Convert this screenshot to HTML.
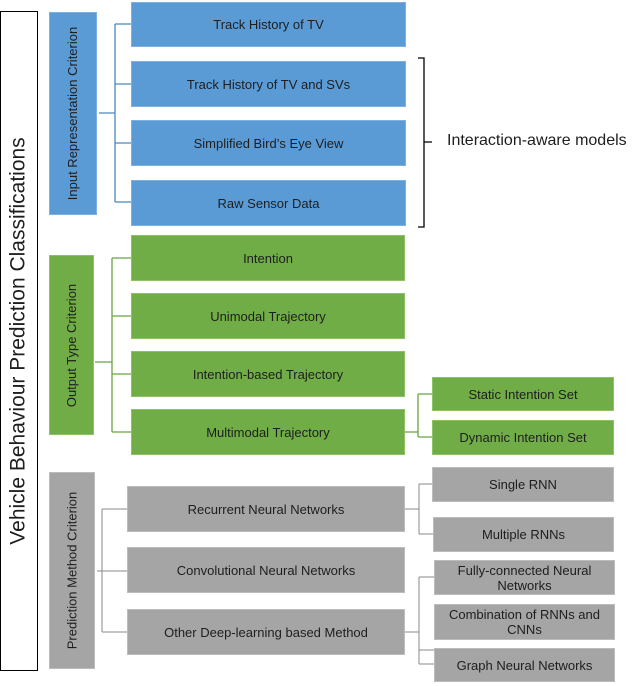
<!DOCTYPE html>
<html><head><meta charset="utf-8"><style>
body{margin:0;width:640px;height:686px;background:#fff;position:relative;overflow:hidden;font-family:"Liberation Sans",sans-serif;color:#1e1e1e}
.b{position:absolute;display:flex;align-items:center;justify-content:center;text-align:center;font-size:13px;line-height:15px}
.bl{background:#5b9bd5;border:1px solid #7eb1e0;box-sizing:border-box}
.gr{background:#70ad47;border:1px solid #8cc266;box-sizing:border-box}
.gy{background:#a5a5a5;border:1px solid #bcbcbc;box-sizing:border-box}
.v{position:absolute;display:flex;align-items:center;justify-content:center}
.v span{transform:rotate(-90deg);white-space:nowrap;font-size:13px}
.l{position:absolute}
</style></head><body>
<div style="position:absolute;left:0;top:11px;width:38px;height:660px;border:1px solid #000;box-sizing:border-box"></div>
<div class="v" style="left:0;top:11px;width:38px;height:660px"><span style="font-size:21px">Vehicle Behaviour Prediction Classifications</span></div>

<div class="v bl" style="left:49px;top:12px;width:48px;height:203px;position:absolute"><span>Input Representation Criterion</span></div>
<div class="b bl" style="left:131px;top:2px;width:275px;height:45px">Track History of TV</div>
<div class="b bl" style="left:131px;top:61px;width:275px;height:46px">Track History of TV and SVs</div>
<div class="b bl" style="left:131px;top:120px;width:275px;height:46px">Simplified Bird’s Eye View</div>
<div class="b bl" style="left:131px;top:180px;width:275px;height:46px">Raw Sensor Data</div>

<div class="v gr" style="left:49px;top:255px;width:45px;height:180px;position:absolute"><span>Output Type Criterion</span></div>
<div class="b gr" style="left:131px;top:235px;width:274px;height:46px">Intention</div>
<div class="b gr" style="left:131px;top:293px;width:274px;height:46px">Unimodal Trajectory</div>
<div class="b gr" style="left:131px;top:351px;width:274px;height:46px">Intention-based Trajectory</div>
<div class="b gr" style="left:131px;top:409px;width:274px;height:46px">Multimodal Trajectory</div>
<div class="b gr" style="left:432px;top:377px;width:182px;height:34px">Static Intention Set</div>
<div class="b gr" style="left:432px;top:420px;width:182px;height:35px">Dynamic Intention Set</div>

<div class="v gy" style="left:49px;top:472px;width:46px;height:197px;position:absolute"><span>Prediction Method Criterion</span></div>
<div class="b gy" style="left:127px;top:486px;width:278px;height:46px">Recurrent Neural Networks</div>
<div class="b gy" style="left:127px;top:547px;width:278px;height:46px">Convolutional Neural Networks</div>
<div class="b gy" style="left:127px;top:609px;width:278px;height:46px">Other Deep-learning based Method</div>
<div class="b gy" style="left:432px;top:467px;width:182px;height:35px">Single RNN</div>
<div class="b gy" style="left:433px;top:517px;width:181px;height:35px">Multiple RNNs</div>
<div class="b gy" style="left:434px;top:560px;width:181px;height:35px">Fully-connected Neural<br>Networks</div>
<div class="b gy" style="left:434px;top:604px;width:181px;height:36px">Combination of RNNs and<br>CNNs</div>
<div class="b gy" style="left:434px;top:648px;width:181px;height:34px">Graph Neural Networks</div>

<svg width="640" height="686" style="position:absolute;left:0;top:0" fill="none">
<g stroke="#4a86c0" stroke-width="1.3">
<path d="M99 113H115M115 24V202M115 24H131M115 84H131M115 143H131M115 202H131"/></g>
<g stroke="#6aa442" stroke-width="1.3">
<path d="M95 362H112M112 258V432M112 258H131M112 316H131M112 374H131M112 432H131M405 432H418M418 394V437M418 394H432M418 437H432"/></g>
<g stroke="#8a8a8a" stroke-width="1">
<path d="M97 571H102M102 509V632M102 509H127M102 571H127M102 632H127M405 509H419M419 484V534M419 484H432M419 534H433M405 632H419M419 577V664M419 577H434M419 650H434M419 664H434"/></g>
<path d="M418 58H424V227H418M424 142H432" stroke="#000" stroke-width="1.3"/>
</svg>
<div style="position:absolute;left:447px;top:132px;font-size:16px;white-space:nowrap">Interaction-aware models</div>
</body></html>
